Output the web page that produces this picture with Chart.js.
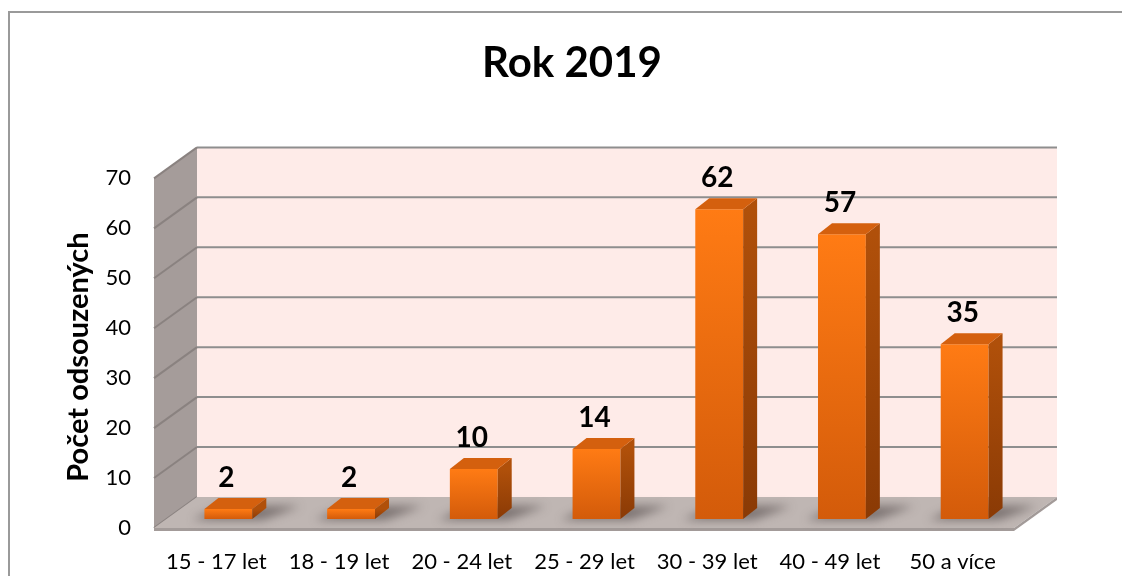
<!DOCTYPE html>
<html>
<head>
<meta charset="utf-8">
<script src="https://cdn.jsdelivr.net/npm/chart.js@4.4.0/dist/chart.umd.min.js"></script>
<style>
	html, body { margin: 0; background: #ffffff; overflow: hidden; }
	#wrap { width: 1122px; height: 576px; position: relative; }
</style>
</head>
<body>
<div id="wrap"><canvas id="canvasrok2019"></canvas></div>
<script>

var kategorie = ["15 - 17 let", "18 - 19 let", "20 - 24 let", "25 - 29 let", "30 - 39 let", "40 - 49 let", "50 a více"];
var pocty = [2, 2, 10, 14, 62, 57, 35];
var osaY = [0, 10, 20, 30, 40, 50, 60, 70];

var pismo = "Lato, 'Open Sans', sans-serif";

// hloubka 3D: predni rovina, zadni stena, hloubka sloupce
var predni = { dx: -12, dy: 9 };
var zadni = { dx: 31, dy: -22 };
var sloupec = { dx: 14, dy: -11 };

function polygon(ctx, body, barva){
	ctx.beginPath();
	ctx.moveTo(body[0][0], body[0][1]);
	for (var i = 1; i < body.length; i++){ ctx.lineTo(body[i][0], body[i][1]); }
	ctx.closePath();
	ctx.fillStyle = barva;
	ctx.fill();
}

var plugin3d = {
	id: 'plugin3d',
	beforeDraw: function(chart){
		var ctx = chart.ctx;
		var y = chart.scales.y;
		var L = chart.chartArea.left - 1;
		var R = chart.chartArea.right;
		var y0 = y.getPixelForValue(0);
		var yMax = y.getPixelForValue(70);

		ctx.save();
		// ramecek grafu
		ctx.fillStyle = '#9a9a9a';
		ctx.fillRect(8, 11, 2, 570);
		ctx.fillRect(8, 11, 1120, 2);

		// zadni stena
		ctx.fillStyle = '#feebe8';
		ctx.fillRect(L + zadni.dx, yMax + zadni.dy, R - L, y0 - yMax);

		// leva stena
		polygon(ctx, [
			[L + predni.dx, y0 + predni.dy],
			[L + predni.dx, yMax + predni.dy],
			[L + zadni.dx, yMax + zadni.dy],
			[L + zadni.dx, y0 + zadni.dy]
		], '#a59c9a');

		// mrizka
		ctx.lineWidth = 2;
		osaY.forEach(function(v){
			var py = y.getPixelForValue(v);
			if (v > 0){
				ctx.strokeStyle = '#8e8e8e';
				ctx.beginPath();
				ctx.moveTo(L + zadni.dx, py + zadni.dy);
				ctx.lineTo(R + zadni.dx, py + zadni.dy);
				ctx.stroke();
			}
			ctx.strokeStyle = '#8a8280';
			ctx.beginPath();
			ctx.moveTo(L + predni.dx, py + predni.dy);
			ctx.lineTo(L + zadni.dx, py + zadni.dy);
			ctx.stroke();
		});

		// podlaha
		polygon(ctx, [
			[L + predni.dx, y0 + predni.dy],
			[L + zadni.dx, y0 + zadni.dy],
			[R + zadni.dx, y0 + zadni.dy],
			[R + predni.dx, y0 + predni.dy]
		], '#bfb6b3');
		polygon(ctx, [
			[L + predni.dx, y0 + predni.dy],
			[R + predni.dx, y0 + predni.dy],
			[R + predni.dx, y0 + predni.dy + 3],
			[L + predni.dx, y0 + predni.dy + 3]
		], '#a39b99');
		polygon(ctx, [
			[R + predni.dx, y0 + predni.dy],
			[R + zadni.dx, y0 + zadni.dy],
			[R + zadni.dx, y0 + zadni.dy + 3],
			[R + predni.dx, y0 + predni.dy + 3]
		], '#a39b99');
		ctx.restore();
	},
	beforeDatasetsDraw: function(chart){
		var ctx = chart.ctx;
		var meta = chart.getDatasetMeta(0);
		ctx.save();
		ctx.filter = 'blur(5px)';
		meta.data.forEach(function(bar){
			var w = bar.width;
			var b = bar.base;
			polygon(ctx, [
				[bar.x - w / 2 - 12, b + 1],
				[bar.x + w / 2 + 10, b + 1],
				[bar.x + w / 2 + sloupec.dx + 34, b + sloupec.dy - 2],
				[bar.x - w / 2 + sloupec.dx + 4, b + sloupec.dy - 2]
			], 'rgba(70, 60, 60, 0.55)');
		});
		ctx.restore();
	},
	afterDatasetsDraw: function(chart){
		var ctx = chart.ctx;
		var meta = chart.getDatasetMeta(0);
		var y = chart.scales.y;
		ctx.save();
		meta.data.forEach(function(bar, i){
			var w = bar.width;
			var l = bar.x - w / 2;
			var r = bar.x + w / 2;
			var t = bar.y;
			var b = bar.base;

			var gSide = ctx.createLinearGradient(0, t, 0, b);
			gSide.addColorStop(0, '#b0500a');
			gSide.addColorStop(1, '#8a3a05');
			polygon(ctx, [
				[r, t], [r + sloupec.dx, t + sloupec.dy],
				[r + sloupec.dx, b + sloupec.dy], [r, b]
			], gSide);

			polygon(ctx, [
				[l, t], [l + sloupec.dx, t + sloupec.dy],
				[r + sloupec.dx, t + sloupec.dy], [r, t]
			], '#d4600e');

			// hodnota nad sloupcem
			ctx.fillStyle = '#000000';
			ctx.font = 'bold 28px ' + pismo;
			ctx.textAlign = 'center';
			ctx.textBaseline = 'middle';
			ctx.fillText(pocty[i], bar.x - 2, t - 31);

			// popisek kategorie
			ctx.font = '22px ' + pismo;
			ctx.fillText(kategorie[i], bar.x + predni.dx, 562);
		});

		// popisky osy Y
		ctx.font = '22px ' + pismo;
		ctx.textAlign = 'right';
		ctx.textBaseline = 'middle';
		ctx.fillStyle = '#000000';
		osaY.forEach(function(v){
			ctx.fillText(v, 131, y.getPixelForValue(v) + predni.dy);
		});

		// nazev osy Y
		ctx.translate(79, 357);
		ctx.rotate(-Math.PI / 2);
		ctx.textAlign = 'center';
		ctx.font = 'bold 29px ' + pismo;
		ctx.fillText('Počet odsouzených', 0, 0);
		ctx.restore();
	}
};

function barva_sloupce(context){
	var chart = context.chart;
	var y = chart.scales.y;
	if (!y || !chart.chartArea){ return '#f06e10'; }
	var hodnota = context.raw;
	var top = y.getPixelForValue(hodnota);
	var bottom = y.getPixelForValue(0);
	if (!isFinite(top) || !isFinite(bottom) || top === bottom){ return '#f06e10'; }
	var g = chart.ctx.createLinearGradient(0, top, 0, bottom);
	g.addColorStop(0, '#ff7b14');
	g.addColorStop(1, '#d35b0a');
	return g;
}

function init_chart_rok2019(){

	if( typeof (Chart) === 'undefined'){ return; }

	var chart_bar_settings = {
		type: 'bar',
		data: {
			labels: kategorie,
			datasets: [{
				data: pocty,
				backgroundColor: barva_sloupce,
				borderWidth: 0,
				barPercentage: 0.39,
				categoryPercentage: 1.0
			}]
		},
		options: {
			responsive: true,
			maintainAspectRatio: false,
			animation: false,
			layout: { padding: { left: 22, right: 0, top: 0, bottom: 57 } },
			plugins: {
				legend: { display: false },
				tooltip: { enabled: false },
				title: {
					display: true,
					text: 'Rok 2019',
					color: '#000000',
					font: { family: pismo, size: 42, weight: 'bold' },
					padding: { top: 38, bottom: 81 }
				}
			},
			scales: {
				x: { display: false },
				y: {
					position: 'left',
					min: 0,
					max: 70,
					ticks: { display: false, stepSize: 10 },
					grid: { display: false },
					border: { display: false },
					afterFit: function(axis){ axis.width = 145; }
				},
				y2: {
					position: 'right',
					ticks: { display: false },
					grid: { display: false },
					border: { display: false },
					afterFit: function(axis){ axis.width = 96; }
				}
			}
		},
		plugins: [plugin3d]
	};

	new Chart(document.getElementById('canvasrok2019'), chart_bar_settings);
}

init_chart_rok2019();
</script>
</body>
</html>
